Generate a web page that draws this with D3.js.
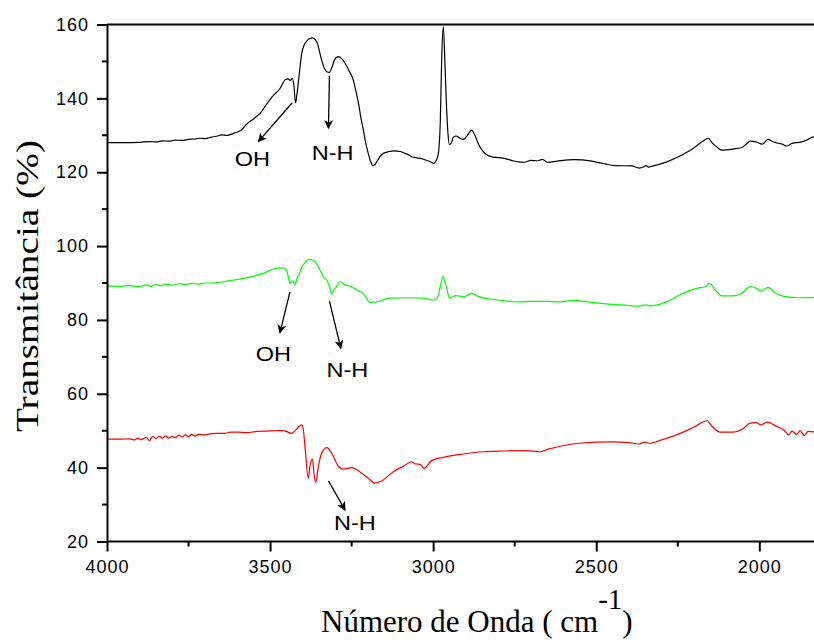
<!DOCTYPE html>
<html>
<head>
<meta charset="utf-8">
<script src="https://cdn.jsdelivr.net/npm/d3@7"></script>
<style>
  body { margin: 0; background: #fff; }
  svg { display: block; }
</style>
</head>
<body>
<div id="chart"></div>
<script>
// FTIR spectra, wavenumber (cm-1) vs transmittance (%)
const blackSeries = [
  [4000,128.0],[3950,128.0],[3900,128.1],[3870,128.3],[3850,128.2],[3830,128.5],[3810,128.4],
  [3790,128.7],[3770,128.6],[3750,128.9],[3730,129.0],[3715,129.2],[3700,129.1],[3680,129.5],
  [3660,129.8],[3650,130.1],[3630,130.0],[3610,130.6],[3590,131.3],[3572,133.0],[3550,134.5],
  [3530,136.0],[3510,138.5],[3490,140.8],[3470,142.6],[3454,145.0],[3445,145.3],[3438,144.9],
  [3432,145.4],[3427,143.5],[3422,138.8],[3417,141.5],[3410,147.0],[3403,152.2],[3395,154.5],
  [3388,155.5],[3378,156.2],[3369,156.4],[3360,155.7],[3355,154.9],[3348,152.5],[3342,150.4],
  [3334,148.2],[3326,147.2],[3318,147.0],[3310,148.5],[3302,150.5],[3291,151.3],[3280,150.7],
  [3270,149.5],[3258,147.5],[3245,145.0],[3237,142.0],[3229,138.7],[3222,135.0],[3214,131.4],
  [3207,128.0],[3199,125.1],[3192,123.0],[3185,121.8],[3178,122.1],[3173,122.8],[3163,124.2],
  [3153,125.1],[3135,125.6],[3122,125.8],[3100,125.6],[3086,125.1],[3075,124.7],[3066,124.2],
  [3050,123.9],[3030,123.5],[3010,122.9],[2999,122.4],[2990,123.3],[2984,125.1],[2978,134.0],
  [2974,150.0],[2969,159.4],[2964,150.0],[2960,140.0],[2955,131.0],[2950,127.5],[2945,127.8],
  [2938,129.5],[2930,129.8],[2918,129.2],[2907,128.9],[2895,130.0],[2882,131.4],[2872,130.0],
  [2862,127.8],[2850,126.0],[2836,124.7],[2815,124.1],[2785,123.8],[2760,123.2],[2739,122.8],
  [2720,122.7],[2700,123.2],[2680,123.1],[2665,123.5],[2650,122.7],[2620,123.0],[2570,123.4],
  [2514,123.0],[2491,122.6],[2470,122.2],[2442,121.8],[2391,121.7],[2368,121.1],[2355,121.4],
  [2347,121.8],[2340,121.4],[2330,121.6],[2284,122.8],[2248,124.2],[2202,126.5],[2175,128.3],
  [2156,129.2],[2145,128.0],[2130,126.8],[2115,126.0],[2080,126.3],[2054,126.7],[2040,127.6],
  [2028,128.4],[2010,128.2],[1991,127.6],[1973,128.9],[1960,128.3],[1945,127.9],[1930,127.6],
  [1916,127.1],[1900,127.8],[1870,128.2],[1855,128.7],[1840,129.4],[1825,129.7]
];

const greenSeries = [
  [4000,89.2],[3960,89.1],[3930,89.3],[3900,89.0],[3880,89.5],[3865,89.1],[3850,89.6],[3835,89.2],
  [3820,89.7],[3800,89.4],[3780,89.8],[3760,89.6],[3740,89.9],[3720,89.7],[3700,90.0],[3680,90.0],
  [3653,90.2],[3620,90.7],[3572,91.4],[3521,92.6],[3480,94.0],[3459,94.1],[3450,93.5],[3445,92.0],
  [3439,89.9],[3432,90.6],[3424,89.6],[3418,91.0],[3410,92.6],[3403,94.2],[3395,95.3],[3385,96.2],
  [3378,96.4],[3365,96.0],[3356,95.0],[3347,93.5],[3335,91.5],[3326,90.8],[3318,89.0],[3311,87.0],
  [3305,88.0],[3298,88.8],[3286,90.4],[3270,89.5],[3250,89.0],[3234,88.1],[3215,87.2],[3205,86.0],
  [3194,84.7],[3185,84.8],[3173,84.9],[3132,85.9],[3071,86.0],[3030,85.9],[3000,85.4],[2990,85.8],
  [2984,86.8],[2977,89.5],[2970,91.7],[2963,90.0],[2958,88.6],[2953,86.5],[2948,85.9],[2930,86.6],
  [2905,86.3],[2882,87.2],[2860,86.3],[2820,85.6],[2775,85.1],[2739,84.9],[2700,85.0],[2650,85.0],
  [2611,84.9],[2570,85.3],[2510,84.7],[2450,84.2],[2400,83.9],[2376,83.7],[2355,84.0],[2347,84.1],
  [2335,83.8],[2284,84.9],[2243,86.8],[2190,88.6],[2165,89.0],[2154,89.9],[2130,87.6],[2115,86.5],
  [2080,86.5],[2054,87.2],[2028,89.0],[2010,88.6],[1995,87.8],[1973,88.8],[1950,87.2],[1920,86.3],
  [1880,86.0],[1825,86.1]
];

const redSeries = [
  [4000,47.7],[3960,47.7],[3930,47.8],[3915,47.5],[3905,48.0],[3895,47.6],[3880,48.2],[3870,47.3],
  [3860,48.4],[3850,47.9],[3840,48.5],[3830,48.0],[3820,48.6],[3810,48.0],[3800,48.5],[3790,48.1],
  [3780,48.8],[3770,48.3],[3760,48.9],[3750,48.4],[3740,49.0],[3730,48.5],[3720,49.0],[3700,48.9],
  [3680,49.2],[3660,49.3],[3640,49.3],[3620,49.6],[3600,49.6],[3572,49.5],[3540,49.8],[3510,49.9],
  [3480,50.0],[3460,50.0],[3445,49.6],[3434,49.3],[3420,50.3],[3410,51.2],[3403,51.6],[3398,50.2],
  [3392,44.8],[3383,37.1],[3378,40.3],[3370,42.3],[3365,38.0],[3360,36.0],[3352,40.3],[3342,43.9],
  [3326,45.4],[3311,43.9],[3290,40.3],[3275,39.6],[3250,40.0],[3225,38.9],[3199,37.1],[3178,35.8],
  [3158,36.4],[3122,38.9],[3091,40.4],[3066,41.6],[3055,41.0],[3040,40.9],[3028,39.8],[3005,41.9],
  [2969,42.8],[2907,43.7],[2846,44.3],[2785,44.5],[2713,44.6],[2672,44.3],[2647,45.0],[2600,46.0],
  [2550,46.6],[2500,46.9],[2450,47.0],[2400,46.8],[2370,46.4],[2350,46.9],[2335,46.6],[2300,47.5],
  [2250,49.0],[2200,51.0],[2160,52.7],[2145,51.2],[2120,49.6],[2080,49.6],[2050,50.5],[2030,52.0],
  [2010,52.2],[1995,51.6],[1975,52.3],[1950,51.3],[1925,50.2],[1910,48.9],[1900,49.9],[1885,49.0],
  [1875,50.0],[1862,48.7],[1850,49.8],[1825,49.6]
];

const xTicks = [4000, 3500, 3000, 2500, 2000];
const xMinorTicks = [3750, 3250, 2750, 2250, 1750];
const yTicks = [20, 40, 60, 80, 100, 120, 140, 160];
const yMinorTicks = [30, 50, 70, 90, 110, 130, 150];

// arrow annotations: [fromX, fromY, toX, toY, labelX, labelY, text]
const annotations = [
  [3432, 138.8, 3536, 128.3, 3554, 121.7, "OH"],
  [3318, 146.1, 3321, 131.9, 3308, 123.3, "N-H"],
  [3439, 87.6, 3470, 76.5, 3490, 68.9, "OH"],
  [3318, 85.1, 3283, 72.3, 3263, 64.5, "N-H"],
  [3321, 36.4, 3270, 28.5, 3240, 23.1, "N-H"]
];

const width = 814, height = 642;
const plotLeft = 107, plotRight = 814, plotTop = 24.5, plotBottom = 541.5;

const x = d3.scaleLinear().domain([4000, 1800]).range([plotLeft, plotLeft + 2200 * 0.32615]);
const y = d3.scaleLinear().domain([20, 160]).range([plotBottom, plotTop]);

const svg = d3.select("#chart").append("svg")
    .attr("width", width)
    .attr("height", height);

const defs = svg.append("defs");
defs.append("clipPath").attr("id", "plot")
  .append("rect").attr("x", plotLeft).attr("y", plotTop - 2)
  .attr("width", plotRight - plotLeft).attr("height", plotBottom - plotTop + 2);

defs.append("marker")
    .attr("id", "arrow")
    .attr("viewBox", "0 0 10 10")
    .attr("refX", 9).attr("refY", 5)
    .attr("markerWidth", 9).attr("markerHeight", 9)
    .attr("markerUnits", "userSpaceOnUse")
    .attr("orient", "auto")
  .append("path").attr("d", "M0,0 L10,5 L0,10 L2.5,5 Z").attr("fill", "#000");

const line = d3.line()
    .x(d => x(d[0]))
    .y(d => y(d[1]))
    .curve(d3.curveMonotoneX);

const g = svg.append("g").attr("clip-path", "url(#plot)");
[[blackSeries, "#000000"], [greenSeries, "#00ff00"], [redSeries, "#ff0000"]].forEach(([data, col]) => {
  g.append("path")
    .datum(data)
    .attr("fill", "none")
    .attr("stroke", col)
    .attr("stroke-width", 1.2)
    .attr("d", line);
});

// axes
const xAxis = svg.append("g")
    .attr("transform", `translate(0,${plotBottom})`)
    .call(d3.axisBottom(x).tickValues(xTicks).tickSize(10).tickSizeOuter(0).tickFormat(d3.format("d")));
xAxis.select(".domain").attr("d", `M${plotLeft},0H${plotRight}`).attr("stroke-width", 2);
xAxis.selectAll(".tick line").attr("stroke-width", 2);
xAxis.selectAll(".tick text")
    .attr("y", 19)
    .attr("dy", "0.71em")
    .style("font", "18px 'Liberation Sans', Arial, sans-serif")
    .style("letter-spacing", "1px")
    .attr("fill", "#000");
xAxis.selectAll(".minor").data(xMinorTicks).join("line")
    .attr("class", "minor")
    .attr("x1", d => x(d)).attr("x2", d => x(d))
    .attr("y1", 0).attr("y2", 5)
    .attr("stroke", "#000").attr("stroke-width", 2);

const yAxis = svg.append("g")
    .attr("transform", `translate(${plotLeft},0)`)
    .call(d3.axisLeft(y).tickValues(yTicks).tickSize(10).tickSizeOuter(0));
yAxis.select(".domain").attr("stroke-width", 2);
yAxis.selectAll(".tick line").attr("stroke-width", 2);
yAxis.selectAll(".tick text")
    .attr("x", -18)
    .style("font", "18px 'Liberation Sans', Arial, sans-serif")
    .style("letter-spacing", "1px")
    .attr("fill", "#000");
yAxis.selectAll(".minor").data(yMinorTicks).join("line")
    .attr("class", "minor")
    .attr("x1", -5).attr("x2", 0)
    .attr("y1", d => y(d)).attr("y2", d => y(d))
    .attr("stroke", "#000").attr("stroke-width", 2);

// top frame line
svg.append("line")
    .attr("x1", plotLeft).attr("x2", plotRight)
    .attr("y1", y(160)).attr("y2", y(160))
    .attr("stroke", "#000").attr("stroke-width", 2);

// annotations
annotations.forEach(a => {
  svg.append("line")
    .attr("x1", x(a[0])).attr("y1", y(a[1]))
    .attr("x2", x(a[2])).attr("y2", y(a[3]))
    .attr("stroke", "#000").attr("stroke-width", 1.3)
    .attr("marker-end", "url(#arrow)");
  const t = svg.append("text")
    .attr("x", x(a[4])).attr("y", y(a[5]))
    .attr("text-anchor", "middle")
    .style("font", "21px 'Liberation Sans', Arial, sans-serif")
    .attr("fill", "#000")
    .text(a[6]);
  t.attr("textLength", t.node().getComputedTextLength() * 1.12)
    .attr("lengthAdjust", "spacingAndGlyphs");
});

// axis titles
svg.append("text")
    .attr("transform", "translate(38,286) rotate(-90)")
    .attr("text-anchor", "middle")
    .attr("textLength", 292)
    .attr("lengthAdjust", "spacingAndGlyphs")
    .style("font", "31px 'Liberation Serif', 'Times New Roman', serif")
    .text("Transmitância (%)");

const xt = svg.append("text")
    .attr("x", 321).attr("y", 632)
    .style("font", "31px 'Liberation Serif', 'Times New Roman', serif");
xt.append("tspan").text("Número de Onda ( cm");
xt.append("tspan").attr("dy", -23).style("font-size", "29px").text("-1");
xt.append("tspan").attr("dy", 23).text(")");
</script>
</body>
</html>
